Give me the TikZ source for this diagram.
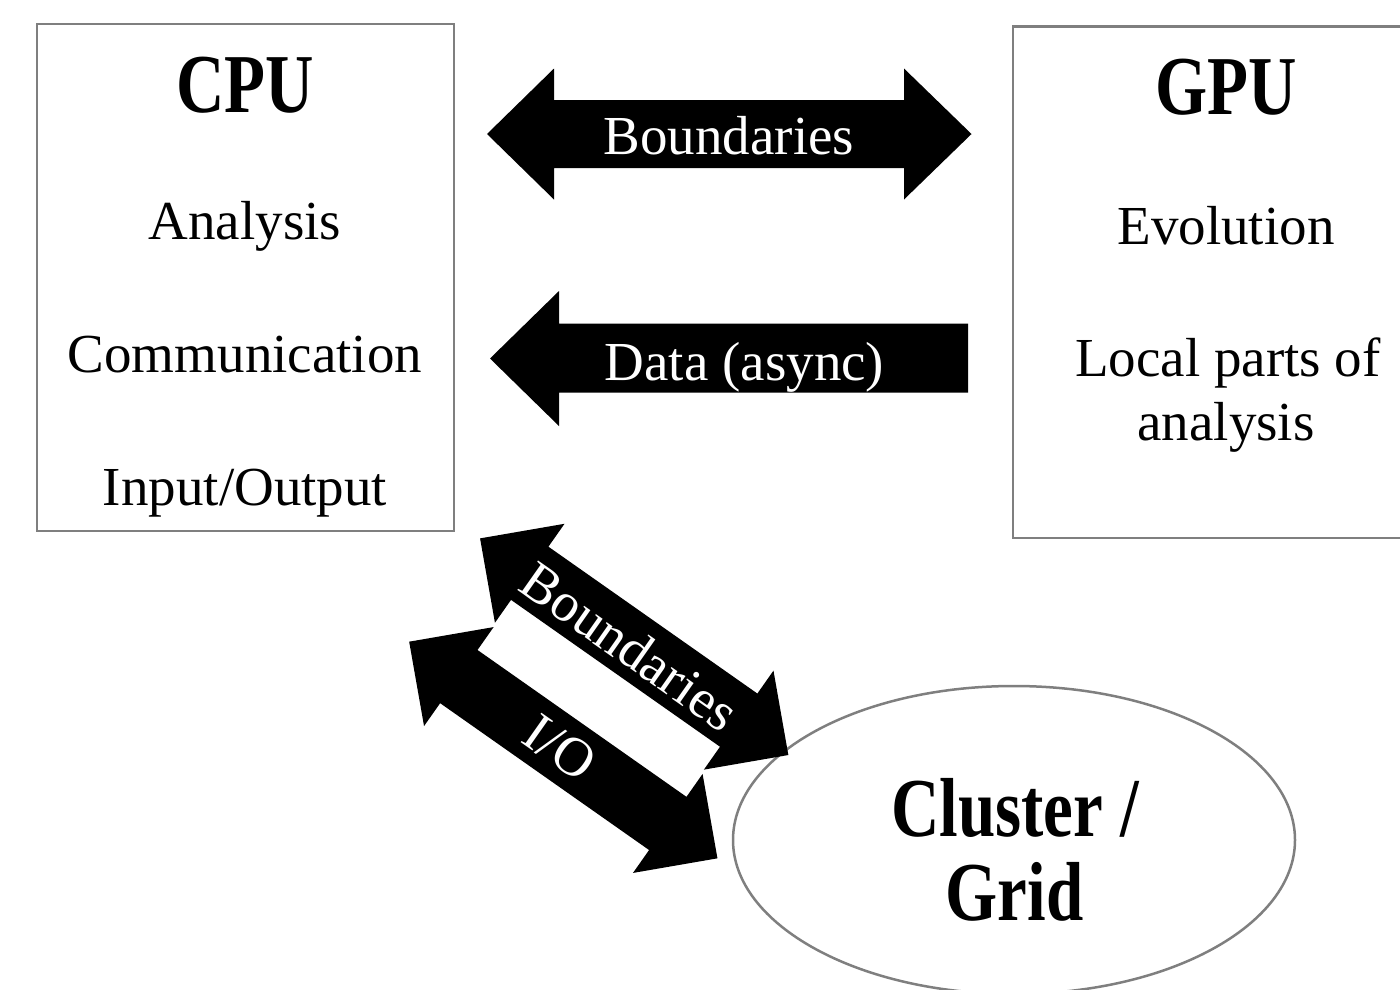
\documentclass[tikz,border=0pt]{standalone}
\usepackage{fontspec}
\setmainfont{Liberation Serif}
\usepackage{graphicx}
\usetikzlibrary{shapes.geometric}
\definecolor{framegray}{HTML}{7F7F7F}
% bold headings are set tall and narrow
\newcommand\tallhead[1]{\scalebox{1}[1.25]{#1}}

\begin{document}
\begin{tikzpicture}[x=1pt,y=-1pt,
  frame/.style={draw=framegray, line width=2.5pt, inner sep=0pt, outer sep=0pt},
  body/.style={font=\fontsize{55}{60}\selectfont, anchor=base, inner sep=0pt},
  headtext/.style={font=\fontsize{67}{70}\selectfont\bfseries, anchor=base, inner sep=0pt},
  onblack/.style={font=\fontsize{55}{60}\selectfont, text=white, inner sep=0pt},
  blockarrow/.style={fill=black}]

\useasboundingbox (0,0) rectangle (1400,989);
\clip (0,0) rectangle (1400,989);

% processor boxes
\node[frame, rectangle, minimum width=417pt, minimum height=507pt] (cpu) at (245.5,277.5) {};
\node[frame, rectangle, minimum width=426pt, minimum height=511.5pt] (gpu) at (1226,282.25) {};

% cluster ellipse
\node[frame, ellipse, minimum width=562pt, minimum height=308pt] (cluster) at (1014,840) {};

% CPU contents
\node[headtext] (cputitle) at (245,112) {\tallhead{CPU}};
\node[body] (analysis) at (245,239.3) {Analysis};
\node[body] (comm) at (245,372.7) {Communication};
\node[body] (io) at (245,505) {Input/Output};

% GPU contents
\node[headtext] (gputitle) at (1226,114) {\tallhead{GPU}};
\node[body] (evol) at (1226,244) {Evolution};
\node[body] (local1) at (1228,376.7) {Local parts of};
\node[body] (local2) at (1226,440) {analysis};

% cluster contents
\node[headtext] (clus1) at (1015,836.7) {\tallhead{Cluster /}};
\node[headtext] (clus2) at (1014.5,920) {\tallhead{Grid}};

% boundaries exchange between CPU and GPU
\fill[blockarrow] (487,134) -- (554,68.5) -- (554,100) -- (904,100) -- (904,68.5)
  -- (971.5,134) -- (904,199.5) -- (904,168) -- (554,168) -- (554,199.5) -- cycle;
\node[onblack, anchor=base] (bdtop) at (729,154.5) {Boundaries};

% asynchronous data from GPU to CPU
\fill[blockarrow] (490,358.5) -- (559,291) -- (559,323.5) -- (968,323.5)
  -- (968,392.5) -- (559,392.5) -- (559,426) -- cycle;
\node[onblack, anchor=base] (data) at (744.5,380) {Data (async)};

% boundaries exchange between CPU and cluster
\begin{scope}[shift={(634.2,646.7)}, rotate=-35.1]
  \fill[blockarrow] (-188.4,0) -- (-127.7,-60.5) -- (-127.7,-32.5) -- (127.7,-32.5)
    -- (127.7,-60.5) -- (188.4,0) -- (127.7,60.5) -- (127.7,32.5) -- (-127.7,32.5)
    -- (-127.7,60.5) -- cycle;
\end{scope}
\node[onblack, rotate=-35.1] (bddiag) at (630,646) {Boundaries};

% I/O between CPU and cluster
\begin{scope}[shift={(563.3,750)}, rotate=-35.1]
  \fill[blockarrow] (-188.4,0) -- (-127.7,-60.5) -- (-127.7,-32.5) -- (127.7,-32.5)
    -- (127.7,-60.5) -- (188.4,0) -- (127.7,60.5) -- (127.7,32.5) -- (-127.7,32.5)
    -- (-127.7,60.5) -- cycle;
\end{scope}
\node[onblack, rotate=-35.1] (iodiag) at (560,748) {I/O};

\end{tikzpicture}
\end{document}
